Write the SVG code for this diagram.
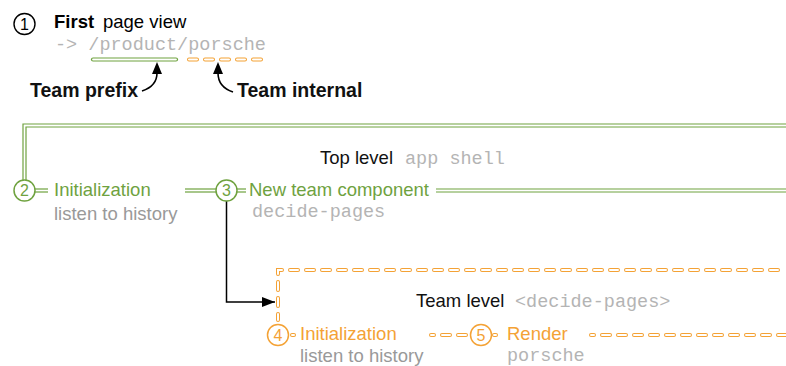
<svg xmlns="http://www.w3.org/2000/svg" width="786" height="366" viewBox="0 0 786 366">
<style>
.sans{font-family:"Liberation Sans",Arial,sans-serif;font-size:18.5px}
.mono{font-family:"Liberation Mono","Courier New",monospace;font-size:18.5px;fill:#b4b4b4}
.bold{font-weight:bold}
.lbl{font-family:"Liberation Sans",Arial,sans-serif;font-weight:bold;font-size:19.5px;fill:#111}
.green{fill:#6fa23f}
.orange{fill:#f4a235}
.gray{fill:#999}
.num{font-family:"Liberation Sans",Arial,sans-serif;font-size:16px;text-anchor:middle}
.gOut{fill:none;stroke:#6fa23f;stroke-width:4.2}
.gIn{fill:none;stroke:#fff;stroke-width:1.8}
.oOut{fill:none;stroke:#f4a235;stroke-width:4;stroke-linecap:round;stroke-dasharray:8 8}
.oIn{fill:none;stroke:#fff;stroke-width:2;stroke-linecap:round;stroke-dasharray:8 8}
.cG{fill:#fff;stroke:#6fa23f;stroke-width:1.5}
.cO{fill:#fff;stroke:#f4a235;stroke-width:1.5}
</style>
<defs>
<marker id="ah" viewBox="0 0 13 10" refX="13" refY="5" markerWidth="13" markerHeight="10" markerUnits="userSpaceOnUse" orient="auto">
<path d="M0,0 L13,5 L0,10 Z" fill="#000"/>
</marker>
</defs>

<g id="connectors">
<path class="gOut" d="M93,59.5 H176" stroke-linecap="round"/>
<path class="gIn" d="M93,59.5 H176" stroke-linecap="round"/>
<path class="oOut" d="M189,59.5 H268"/>
<path class="oIn" d="M189,59.5 H268"/>
<path d="M142,91 Q157,86 157,73" fill="none" stroke="#000" stroke-width="1.6"/>
<path d="M157,62 L162,74 L152,74 Z" fill="#000"/>
<path d="M233,92 Q218,87 218,73" fill="none" stroke="#000" stroke-width="1.6"/>
<path d="M218,62 L223,74 L213,74 Z" fill="#000"/>
<path class="gOut" d="M24.5,180 V125.5 H786"/>
<path class="gIn" d="M24.5,180 V125.5 H786"/>
<path class="gOut" d="M35,190.5 H48"/>
<path class="gIn" d="M35,190.5 H48"/>
<path class="gOut" d="M185,190.5 H216"/>
<path class="gIn" d="M185,190.5 H216"/>
<path class="gOut" d="M237,190.5 H246"/>
<path class="gIn" d="M237,190.5 H246"/>
<path class="gOut" d="M436,190.5 H786"/>
<path class="gIn" d="M436,190.5 H786"/>
<path d="M226.5,201 V302 H275" fill="none" stroke="#000" stroke-width="1.5" marker-end="url(#ah)"/>
<path class="oOut" d="M278,320 V270 H786" stroke-dashoffset="2"/>
<path class="oIn" d="M278,320 V270 H786" stroke-dashoffset="2"/>
<path class="oOut" d="M292,335 H294"/>
<path class="oIn" d="M292,335 H294"/>
<path class="oOut" d="M431,335 H468" stroke-dashoffset="5"/>
<path class="oIn" d="M431,335 H468" stroke-dashoffset="5"/>
<path class="oOut" d="M494,335 H496"/>
<path class="oIn" d="M494,335 H496"/>
<path class="oOut" d="M591,335 H786" stroke-dashoffset="5"/>
<path class="oIn" d="M591,335 H786" stroke-dashoffset="5"/>
</g>

<g id="step1">
<circle cx="24.5" cy="24" r="10.5" fill="#fff" stroke="#000" stroke-width="1.4"/>
<text class="num" x="24.5" y="29.7" fill="#000">1</text>
<text class="sans" x="54" y="27.5" fill="#000"><tspan class="bold">First</tspan><tspan x="103">page view</tspan></text>
<text class="mono" x="55" y="49.5">-&gt; /product/porsche</text>
</g>

<g id="team-prefix"><text class="lbl" x="30" y="97">Team prefix</text></g>
<g id="team-internal"><text class="lbl" x="237" y="97">Team internal</text></g>

<g id="top-level">
<text class="sans" x="320" y="164" fill="#111">Top level</text>
<text class="mono" x="405" y="164">app shell</text>
</g>

<g id="step2">
<circle class="cG" cx="24.5" cy="190.5" r="10.5"/>
<text class="num green" x="24.5" y="196.2">2</text>
<text class="sans green" x="54" y="195.5">Initialization</text>
<text class="sans gray" x="54" y="220">listen to history</text>
</g>

<g id="step3">
<circle class="cG" cx="226.5" cy="190.5" r="10.5"/>
<text class="num green" x="226.5" y="196.2">3</text>
<text class="sans green" x="249" y="195.5">New team component</text>
<text class="mono" x="252" y="217">decide-pages</text>
</g>

<g id="team-level">
<text class="sans" x="416" y="307" fill="#111">Team level</text>
<text class="mono" x="515" y="307">&lt;decide-pages&gt;</text>
</g>

<g id="step4">
<circle class="cO" cx="278" cy="335" r="10.5"/>
<text class="num orange" x="278" y="340.7">4</text>
<text class="sans orange" x="300" y="340">Initialization</text>
<text class="sans gray" x="300" y="361.5">listen to history</text>
</g>

<g id="step5">
<circle class="cO" cx="481" cy="335" r="10.5"/>
<text class="num orange" x="481" y="340.7">5</text>
<text class="sans orange" x="507" y="340">Render</text>
<text class="mono" x="507" y="360.5">porsche</text>
</g>
</svg>
